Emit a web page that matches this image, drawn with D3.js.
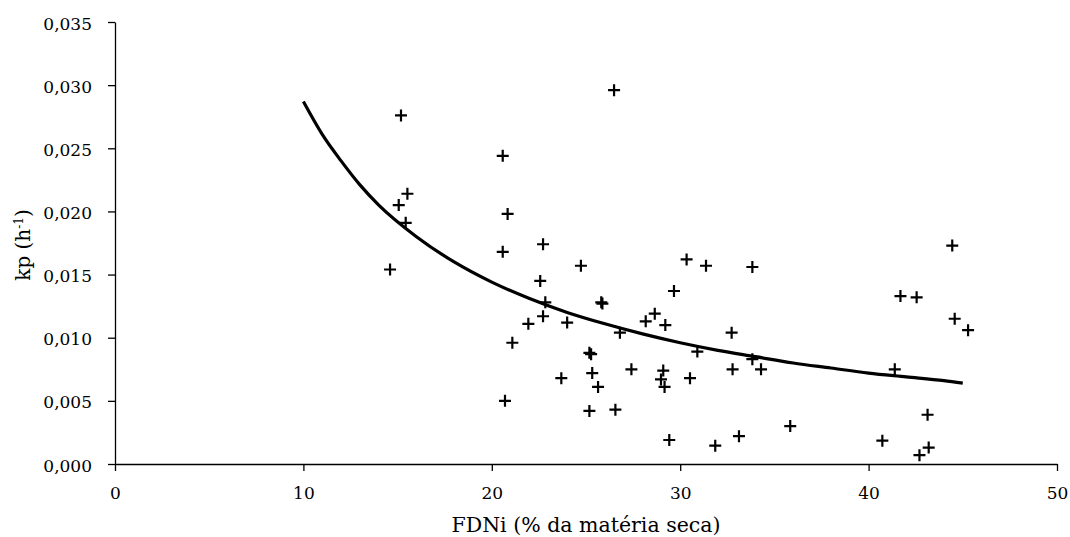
<!DOCTYPE html>
<html>
<head>
<meta charset="utf-8">
<script src="https://cdn.jsdelivr.net/npm/d3@7"></script>
<style>
  html, body { margin: 0; padding: 0; background: #fff; }
</style>
</head>
<body>
<svg id="chart" width="1070" height="537"></svg>
<script>
// Observed data: FDNi (% DM) vs kp (h^-1)
const fdni = [15.18, 26.49, 20.58, 15.52, 15.06, 15.43, 20.84, 20.58, 22.72, 14.6,
  24.73, 30.34, 31.37, 22.57, 29.67, 22.84, 25.81, 25.87, 22.72, 21.94,
  24.0, 28.65, 28.17, 29.21, 26.8, 21.09, 30.91, 25.18, 25.27, 27.41,
  25.33, 23.69, 29.1, 28.98, 29.17, 30.52, 25.64, 20.7, 25.18, 26.56,
  29.42, 31.86, 33.83, 44.44, 41.69, 42.55, 44.57, 45.28, 32.73, 33.83,
  32.78, 34.29, 41.39, 43.13, 35.84, 33.12, 40.73, 43.19, 42.7];
const kp = [0.0276, 0.0296, 0.0244, 0.0214, 0.0205, 0.0191, 0.0198, 0.0168, 0.0174, 0.0154,
  0.0157, 0.0162, 0.0157, 0.0145, 0.0137, 0.0128, 0.0128, 0.0127, 0.0117, 0.0111,
  0.0112, 0.0119, 0.0113, 0.0110, 0.0104, 0.0096, 0.0089, 0.0088, 0.0087, 0.0075,
  0.0072, 0.0068, 0.0074, 0.0067, 0.0061, 0.0068, 0.0061, 0.0050, 0.0042, 0.0043,
  0.0019, 0.00145, 0.0156, 0.0173, 0.0133, 0.0132, 0.0115, 0.0106, 0.0104, 0.0083,
  0.0075, 0.0075, 0.0075, 0.0039, 0.0030, 0.0022, 0.00185, 0.0013, 0.0007];

// Fitted curve
const fitX = [10, 11, 12, 13, 14, 16, 18, 20, 22, 24, 26, 28, 30, 32, 34, 36, 38, 40, 42, 44, 45];
const fitY = [0.0287, 0.0261, 0.0240, 0.0221, 0.0205, 0.0180, 0.0160, 0.0144, 0.0131, 0.0120,
  0.0111, 0.0103, 0.0096, 0.0090, 0.0085, 0.0080, 0.0076, 0.0072, 0.0069, 0.0066, 0.0064];

const xTicks = [0, 10, 20, 30, 40, 50];
const yTicks = [0, 0.005, 0.010, 0.015, 0.020, 0.025, 0.030, 0.035];

const FONT = "DejaVu Serif";
const svg = d3.select("#chart");
const x = d3.scaleLinear().domain([0, 50]).range([115, 1057]);
const y = d3.scaleLinear().domain([0, 0.035]).range([464, 22]);
const fmtY = v => d3.format(".3f")(v).replace(".", ",");

// Y axis
const yAxis = svg.append("g").attr("transform", `translate(${x(0)},0)`)
  .call(d3.axisLeft(y).tickValues(yTicks).tickFormat(fmtY).tickSize(7).tickSizeOuter(0))
  .attr("font-family", FONT);
yAxis.select(".domain").attr("stroke", "#000").attr("stroke-width", 1.3);
yAxis.selectAll(".tick line").attr("stroke", "#000").attr("stroke-width", 1.3);
yAxis.selectAll(".tick text").attr("x", -23).attr("dy", "0.42em").attr("font-size", 17);

// X axis
const xAxis = svg.append("g").attr("transform", `translate(0,${y(0)})`)
  .call(d3.axisBottom(x).tickValues(xTicks).tickFormat(d3.format("d")).tickSize(7).tickSizeOuter(0))
  .attr("font-family", FONT);
xAxis.select(".domain").attr("stroke", "#000").attr("stroke-width", 1.3);
xAxis.selectAll(".tick text").attr("y", 23).attr("font-size", 17);
xAxis.selectAll(".tick line").attr("stroke", "#000").attr("stroke-width", 1.3);

// Fitted curve
const line = d3.line().x((d, i) => x(fitX[i])).y(d => y(d)).curve(d3.curveMonotoneX);
svg.append("path").datum(fitY).attr("d", line)
  .attr("fill", "none").attr("stroke", "#000").attr("stroke-width", 3.2);

// Points as plus markers
const pts = svg.append("g");
fdni.forEach((v, i) => {
  const cx = x(v), cy = y(kp[i]);
  pts.append("path")
    .attr("d", `M${cx - 6},${cy}H${cx + 6}M${cx},${cy - 6}V${cy + 6}`)
    .attr("stroke", "#000").attr("stroke-width", 2.2).attr("fill", "none");
});

// Axis titles
svg.append("text").attr("x", (x(0) + x(50)) / 2).attr("y", 532)
  .attr("text-anchor", "middle").attr("font-size", 20.5).attr("font-family", FONT)
  .text("FDNi (% da matéria seca)");

const yl = svg.append("text")
  .attr("transform", `translate(30,${(y(0) + y(0.035)) / 2 + 2}) rotate(-90)`)
  .attr("text-anchor", "middle").attr("font-size", 20).attr("font-family", FONT);
yl.append("tspan").text("kp (h");
yl.append("tspan").attr("baseline-shift", "super").attr("font-size", 12).text("-1");
yl.append("tspan").text(")");
</script>
</body>
</html>
